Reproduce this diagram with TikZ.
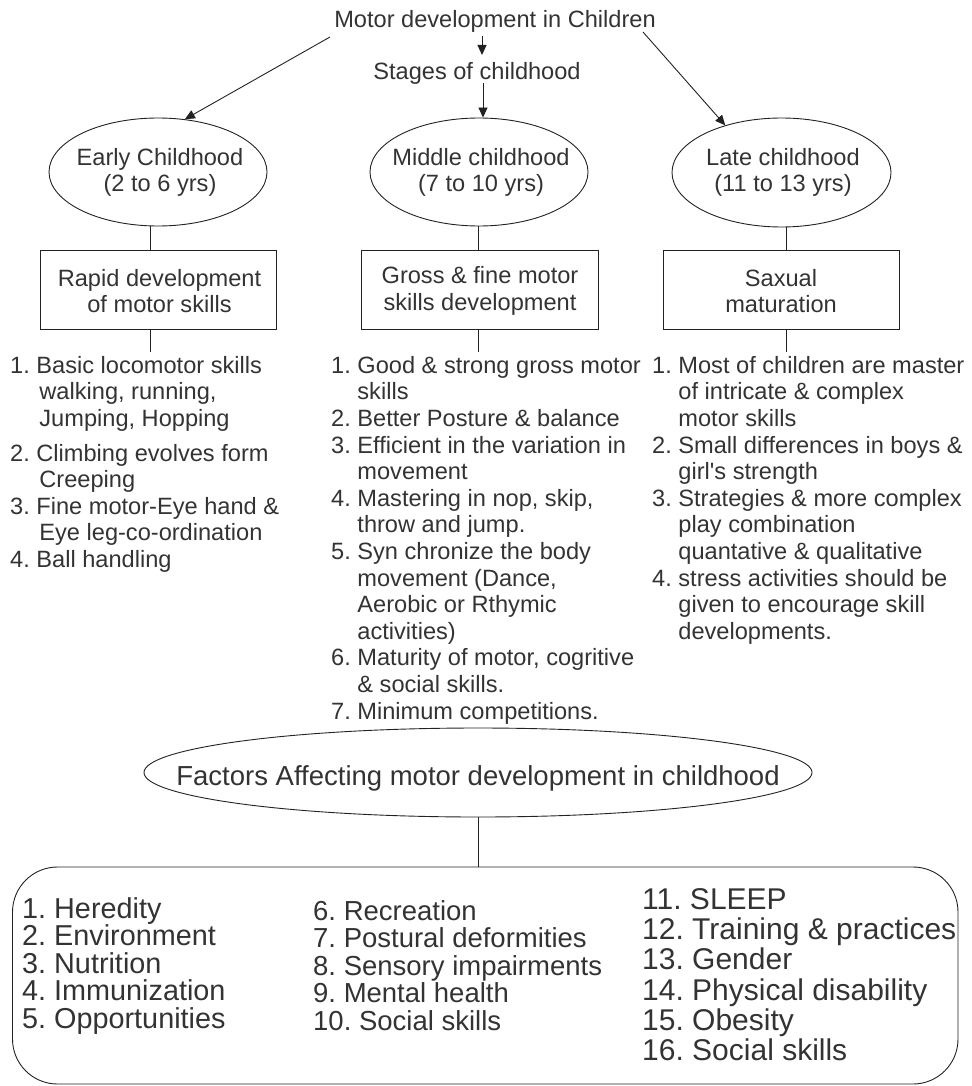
\documentclass[tikz,border=0pt]{standalone}
\usepackage{fontspec}
\setmainfont{Liberation Sans}[Ligatures=TeXOff]
\usetikzlibrary{arrows.meta,shapes.geometric,calc}
\definecolor{ink}{HTML}{333333}
\definecolor{lin}{HTML}{222222}
\newcommand\fA{\fontsize{23.6}{26.6}\selectfont\frenchspacing}
\newcommand\fB{\fontsize{27.5}{27.5}\selectfont\frenchspacing}
\newcommand\fD{\fontsize{28.8}{27.5}\selectfont\frenchspacing}
\newcommand\fC{\fontsize{30}{30.3}\selectfont\frenchspacing}
\newcommand\ind{\hphantom{1. }}
\frenchspacing
\begin{document}
\begin{tikzpicture}[x=1pt,y=-1pt,
  txt/.style={inner sep=0pt, text=ink, font=\fA, align=center},
  lst/.style={inner sep=0pt, text=ink, font=\fA, align=left, anchor=north west},
  ell/.style={draw=lin, line width=0.9pt, ellipse, inner sep=0pt},
  boxn/.style={draw=lin, line width=0.9pt, rectangle, inner sep=0pt},
  ln/.style={draw=lin, line width=0.9pt},
  arr/.style={ln, -{Triangle[length=10pt,width=9pt]}}]
\useasboundingbox (0,0) rectangle (971,1086);

% top texts
\node[txt, anchor=base] (title) at (495,27.5) {Motor development in Children};
\node[txt, anchor=base] (stages) at (477,80) {Stages of childhood};

% ellipses
\node[ell, minimum width=218pt, minimum height=108pt] (e1) at (158,172) {};
\node[ell, minimum width=218pt, minimum height=108pt] (e2) at (479,172) {};
\node[ell, minimum width=219pt, minimum height=109pt] (e3) at (781.5,172.5) {};
\node[txt] (t1) at (160,172.5) {Early Childhood\\(2 to 6 yrs)};
\node[txt] (t2) at (481,172.5) {Middle childhood\\(7 to 10 yrs)};
\node[txt] (t3) at (783,172.5) {Late childhood\\(11 to 13 yrs)};

% arrows
\coordinate (a1s) at (482,36);
\coordinate (a1e) at (482,55);
\coordinate (a2s) at (483,83);
\coordinate (als) at (330,37);
\coordinate (ars) at (643,32);
\draw[arr] (a1s) -- (a1e);
\draw[arr] (a2s) -- (e2.north -| a2s);
\draw[arr] (als) -- (e1.63);
\draw[arr] (ars) -- (e3.140);

% boxes
\node[boxn, minimum width=236pt, minimum height=79pt] (b1) at (158,289.5) {};
\node[boxn, minimum width=237pt, minimum height=79pt] (b2) at (479.5,289.5) {};
\node[boxn, minimum width=236pt, minimum height=79pt] (b3) at (781,289.5) {};
\node[txt] (bt1) at (159.5,291) {Rapid development\\of motor skills};
\node[txt] (bt2) at (480,291) {Gross \& fine motor\\skills development};
\node[txt] (bt3) at (781,291) {Saxual\\maturation};

% vertical connectors
\coordinate (k1) at (150,352);
\coordinate (k2) at (478,352);
\coordinate (k3) at (786,352);
\draw[ln] (e1.south -| k1) -- (b1.north -| k1);
\draw[ln] (e2.south -| k2) -- (b2.north -| k2);
\draw[ln] (e3.south -| k3) -- (b3.north -| k3);
\draw[ln] (b1.south -| k1) -- (k1);
\draw[ln] (b2.south -| k2) -- (k2);
\draw[ln] (b3.south -| k3) -- (k3);

% lists
\node[lst] (l1) at (10,356) {1. Basic locomotor skills\\
\ind\hspace{3pt}walking, running,\\
\ind\hspace{3pt}Jumping, Hopping\\[8pt]
2. Climbing evolves form\\
\ind\hspace{3pt}Creeping\\
3. Fine motor-Eye hand \&\\
\ind\hspace{3pt}Eye leg-co-ordination\\
4. Ball handling};

\node[lst] (l2) at (331,356) {1. Good \& strong gross motor\\
\ind skills\\
2. Better Posture \& balance\\
3. Efficient in the variation in\\
\ind movement\\
4. Mastering in nop, skip,\\
\ind throw and jump.\\
5. Syn chronize the body\\
\ind movement (Dance,\\
\ind Aerobic or Rthymic\\
\ind activities)\\
6. Maturity of motor, cogritive\\
\ind \& social skills.\\
7. Minimum competitions.};

\node[lst] (l3) at (652,356) {1. Most of children are master\\
\ind of intricate \& complex\\
\ind motor skills\\
2. Small differences in boys \&\\
\ind girl's strength\\
3. Strategies \& more complex\\
\ind play combination\\
\ind quantative \& qualitative\\
4. stress activities should be\\
\ind given to encourage skill\\
\ind developments.};

% factors
\node[ell, minimum width=668pt, minimum height=89pt] (fe) at (478,772.5) {};
\node[txt, font=\fB, anchor=base] (ft) at (478,785) {Factors Affecting motor development in childhood};

\node[boxn, rounded corners=45pt, minimum width=945.5pt, minimum height=217pt] (bb) at (485.25,975.5) {};
\coordinate (kf) at (478,800);
\draw[ln] (fe.south -| kf) -- (bb.north -| kf);

\node[lst, font=\fD] (c1) at (22,897) {1. Heredity\\2. Environment\\3. Nutrition\\4. Immunization\\5. Opportunities};
\node[lst, font=\fB] (c2) at (313,900) {6. Recreation\\7. Postural deformities\\8. Sensory impairments\\9. Mental health\\10. Social skills};
\node[lst, font=\fC] (c3) at (642,888) {11. SLEEP\\12. Training \& practices\\13. Gender\\14. Physical disability\\15. Obesity\\16. Social skills};
\end{tikzpicture}
\end{document}
